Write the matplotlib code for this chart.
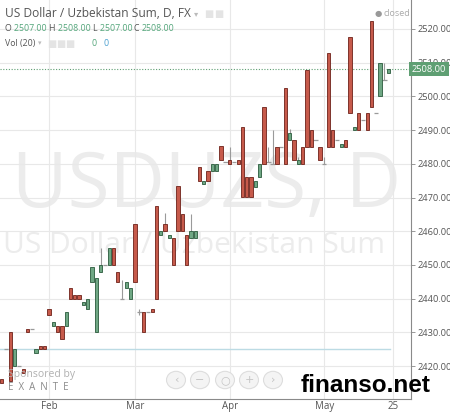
"""USD/UZS daily candles, TradingView-style snapshot (Jan - May 2015)."""

import matplotlib.pyplot as plt
import pandas as pd
from matplotlib.patches import Circle

START = "2015-01-16"
AXIS_END = "2015-05-29"

# one row per weekday bar, starting at START
OPENS = [2416, 2425, 2430, 2420, 2420, 2419, 2431, 2431, 2424, 2426, 2426,
         2437, 2432, 2432, 2432, 2432, 2443, 2441, 2441, 2438, 2437,
         2445, 2430, 2448, 2450, 2450, 2455, 2448, 2440, 2443, 2440,
         2462, 2436, 2436, 2436, 2437, 2467.5, 2459, 2462, 2458, 2458,
         2473.5, 2465, 2459, 2458, 2458, 2479, 2474, 2478, 2478, 2478,
         2485.3, 2480.5, 2481, 2480.5, 2481, 2491, 2476, 2476, 2473, 2476,
         2497, 2480.5, 2480, 2485, 2485, 2502.5, 2487, 2487, 2480, 2485,
         2507.7, 2490, 2487, 2485, 2480, 2513, 2490, 2487, 2485, 2487,
         2517.6, 2490, 2495, 2493, 2495, 2522.4, 2495, 2500, 2505, 2507]
HIGHS = [2416, 2425, 2430, 2425, 2420, 2419, 2431, 2431, 2425, 2426, 2426,
         2437, 2433, 2432, 2432, 2436, 2443, 2441, 2441, 2439, 2440,
         2449.5, 2446, 2455, 2450, 2455, 2455, 2448, 2445.5, 2445, 2443,
         2462, 2437, 2436, 2436, 2437, 2467.5, 2460, 2465.5, 2459, 2458,
         2473.5, 2465, 2459, 2465, 2460, 2479, 2475, 2478, 2480, 2480,
         2485.3, 2480.5, 2485, 2480.5, 2481, 2491, 2476, 2476, 2475, 2480,
         2497, 2485, 2490, 2485, 2485, 2502.5, 2490.3, 2487, 2482, 2485,
         2507.7, 2490, 2487, 2485, 2482, 2513, 2490, 2487, 2486, 2487,
         2517.6, 2491, 2495, 2493, 2495, 2522.4, 2495, 2510, 2510, 2508]
LOWS = [2415, 2425, 2415.5, 2420, 2420, 2418, 2430, 2431, 2424, 2425, 2425,
        2435, 2432, 2430, 2428, 2432, 2440, 2440, 2440, 2438, 2437,
        2445, 2430, 2448, 2450, 2450, 2450, 2445, 2440, 2443, 2440,
        2445, 2435, 2430, 2436, 2436, 2440, 2459, 2460, 2458, 2450,
        2460, 2460, 2450, 2458, 2458, 2475, 2474, 2475, 2478, 2478,
        2481, 2480.5, 2480, 2480.5, 2480, 2470, 2470, 2470, 2473, 2476,
        2480, 2480.5, 2480, 2480, 2485, 2480, 2487, 2481, 2480, 2480,
        2485, 2485, 2487, 2481, 2480, 2485, 2485, 2487, 2485, 2485,
        2495, 2490, 2490, 2493, 2490, 2497, 2495, 2500, 2505, 2507]
CLOSES = [2415, 2425, 2415.5, 2425, 2420, 2418, 2430, 2431, 2425, 2425, 2425,
          2435, 2433, 2430, 2428, 2436, 2440, 2440, 2440, 2439, 2440,
          2449.5, 2446, 2450, 2450, 2455, 2450, 2445, 2440, 2445, 2443,
          2445, 2436, 2430, 2436, 2436, 2440, 2460, 2460, 2459, 2450,
          2460, 2460, 2450, 2460, 2460, 2475, 2475, 2475, 2480, 2480,
          2481, 2480.5, 2480, 2480.5, 2480, 2470, 2470, 2470, 2475, 2480,
          2480, 2480.5, 2480, 2480, 2485, 2480, 2489, 2481, 2481, 2480,
          2485, 2485, 2487, 2481, 2480, 2485, 2485, 2487, 2486, 2485,
          2495, 2491, 2490, 2493, 2490, 2497, 2495, 2510, 2505, 2508]

LAST_PRICE = 2508.0
SUPPORT = 2425.0
Y_TICKS = [2420, 2430, 2440, 2450, 2460, 2470, 2480, 2490, 2500, 2510, 2520]
X_TICK_DATES = ["2015-02-02", "2015-03-02", "2015-04-01", "2015-05-01", "2015-05-25"]
X_TICK_LABELS = ["Feb", "Mar", "Apr", "May", "25"]

RED, RED_EDGE = "#c65a4b", "#6e2119"
GREEN, GREEN_EDGE = "#6fa784", "#2a5a3c"
TXT = "#555555"
FONT = ["Open Sans", "DejaVu Sans"]

W, H = 450, 412
fig = plt.figure(figsize=(W / 100, H / 100), dpi=100)
ax = fig.add_axes([0, 12.7 / H, 410.7 / W, 399.3 / H])


def ftext(px, py, s, **kw):
    kw.setdefault("family", FONT)
    return fig.text(px / W, 1 - py / H, s, **kw)


def text_row(px, py, parts, size):
    # place coloured pieces one after another, return the end x in pixels
    for s, col in parts:
        t = ftext(px, py, s, fontsize=size, color=col, va="baseline")
        fig.canvas.draw()
        px += t.get_window_extent().width
    return px


days = pd.bdate_range(START, AXIS_END)
pos = {d: i for i, d in enumerate(days)}
x = list(range(len(CLOSES)))

# watermarks
ax.text(12 / 410.7, (399.3 - 207) / 399.3, "USDUZS, D", transform=ax.transAxes,
        fontsize=55, color="#ececec", family=FONT, va="baseline", zorder=0)
ax.text(3 / 410.7, (399.3 - 253) / 399.3, "US Dollar / Uzbekistan Sum",
        transform=ax.transAxes, fontsize=21.6, color="#ececec", family=FONT,
        va="baseline", zorder=0)

ax.axhline(SUPPORT, xmin=0, xmax=390 / 410.7, color="#bcdbe4", lw=1, zorder=1)
ax.axhline(LAST_PRICE, color="#5f9f73", lw=0.8, ls=(0, (1, 1.5)), zorder=1)

width = 0.75
for i, o, h, l, c in zip(x, OPENS, HIGHS, LOWS, CLOSES):
    if h > max(o, c) or l < min(o, c):
        ax.vlines(i, l, h, color="#9a9a9a", lw=0.8, zorder=2)
    if o == c:
        ax.hlines(o, i - width / 2 - 0.15, i + width / 2 + 0.15,
                  color="#9a9a9a", lw=0.9, zorder=2)
        continue
    up = c > o
    ax.bar(i, abs(c - o), bottom=min(o, c), width=width,
           color=GREEN if up else RED, edgecolor=GREEN_EDGE if up else RED_EDGE,
           linewidth=0.6, zorder=3)

ax.set_xlim(-49 / 4.3 + 11, (410.7 - 49) / 4.3 + 11)
ax.set_ylim(2520 - 370.3 / 3.37, 2520 + 29 / 3.37)

xt = [pos[pd.Timestamp(d)] for d in X_TICK_DATES]
ax.set_xticks(xt)
ax.set_xticklabels(X_TICK_LABELS)
ax.set_yticks(Y_TICKS)
ax.set_yticklabels([f"{v:.2f}" for v in Y_TICKS])
ax.yaxis.tick_right()
ax.grid(True, color="#e8e8e8", lw=0.8, zorder=0)
ax.set_axisbelow(True)
ax.tick_params(axis="y", length=3, width=0.6, color="#888888", pad=2,
               labelsize=6.7, labelcolor=TXT)
ax.tick_params(axis="x", length=0, pad=1.5, labelsize=7, labelcolor=TXT)
for lab in ax.get_xticklabels() + ax.get_yticklabels():
    lab.set_family(FONT)
for side in ("top", "left"):
    ax.spines[side].set_visible(False)
for side in ("right", "bottom"):
    ax.spines[side].set_color("#8a8a8a")
    ax.spines[side].set_linewidth(0.8)

# last price tag
ftext(429, 69, f"{LAST_PRICE:.2f}", fontsize=6.7, color="white", ha="center",
      va="center", bbox=dict(boxstyle="square,pad=0.25", fc="#5f9f73", ec="none"))

# header
end = text_row(5, 17, [("US Dollar / Uzbekistan Sum, D, FX", TXT)], 8.6)
ftext(end + 3, 16, "▾", fontsize=6, color="#bbbbbb", va="baseline",
      family=["DejaVu Sans"])
for k in range(2):
    ftext(end + 13 + 10 * k, 16.5, "\u25a0", fontsize=7, color="#e4e4e4",
          va="baseline", family=["DejaVu Sans"])
green_num = "#53a57a"
text_row(5, 31, [("O ", TXT), ("2507.00 ", green_num), ("H ", TXT),
                 ("2508.00 ", green_num), ("L ", TXT), ("2507.00 ", green_num),
                 ("C ", TXT), ("2508.00", green_num)], 6.3)
end = text_row(5, 46, [("Vol (20)", TXT)], 6.3)
ftext(end + 3, 45, "▾", fontsize=5, color="#bbbbbb", va="baseline",
      family=["DejaVu Sans"])
for k in range(3):
    ftext(end + 12 + 9 * k, 46.5, "\u25a0", fontsize=7, color="#e4e4e4",
          va="baseline", family=["DejaVu Sans"])
ftext(92, 46, "0", fontsize=6.3, color=green_num, va="baseline")
ftext(104, 46, "0", fontsize=6.3, color="#4a9fd0", va="baseline")
ftext(375, 16, "\u25cf", fontsize=6, color="#999999", va="baseline",
      family=["DejaVu Sans"])
ftext(383, 16, "closed", fontsize=6.5, color="#aaaaaa", va="baseline")

# sponsor + navigation buttons
ftext(8, 377, "Sponsored by", fontsize=7.5, color="#b0b0b0", va="baseline")
ftext(8, 390, "E  X  A  N  T  E", fontsize=7, color="#8a8a8a", va="baseline")
for cx, sym in zip((176, 200, 225, 249, 273), ("‹", "−", "○", "+", "›")):
    fig.patches.append(Circle((cx / W, 1 - 380 / H), 9.5 / W, transform=fig.transFigure,
                              fc="#f4f4f4", ec="#dddddd", lw=0.8))
    ftext(cx, 380, sym, fontsize=8, color="#c4c4c4", ha="center", va="center",
          family=["DejaVu Sans"])

ftext(366, 385, "finanso.net", fontsize=17.5, weight="bold", color="black",
      ha="center", va="center", family=["Liberation Sans", "DejaVu Sans"])

fig.savefig("out.png", dpi=100)
